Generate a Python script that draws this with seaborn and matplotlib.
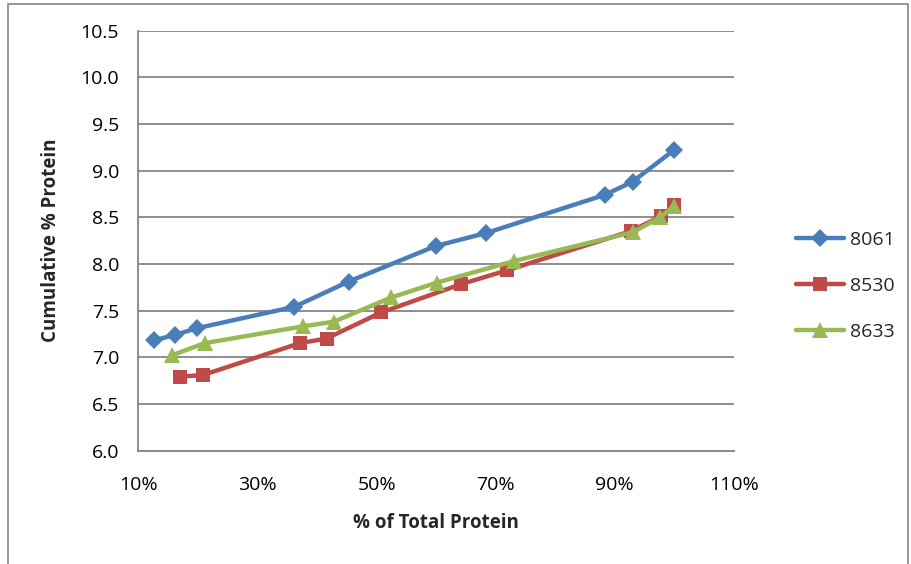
import matplotlib
matplotlib.use("Agg")
import matplotlib.pyplot as plt
import seaborn as sns
import pandas as pd
from matplotlib.patches import Rectangle
from matplotlib.ticker import FuncFormatter

# ---- data ----
series_names = ["8061", "8530", "8633"]
x_8061 = [12.6, 16.2, 19.8, 36.2, 45.3, 59.9, 68.4, 88.4, 93.0, 100.0]
y_8061 = [7.18, 7.24, 7.31, 7.54, 7.81, 8.19, 8.33, 8.74, 8.88, 9.22]
x_8530 = [16.9, 20.9, 37.1, 41.6, 50.8, 64.1, 71.9, 92.7, 97.8, 100.0]
y_8530 = [6.79, 6.81, 7.15, 7.20, 7.48, 7.78, 7.93, 8.35, 8.51, 8.63]
x_8633 = [15.6, 21.1, 37.6, 42.8, 52.5, 60.2, 73.1, 93.1, 97.7, 100.0]
y_8633 = [7.02, 7.15, 7.33, 7.38, 7.64, 7.80, 8.03, 8.34, 8.50, 8.62]
x_ticks = [10, 30, 50, 70, 90, 110]
y_ticks = [6.0, 6.5, 7.0, 7.5, 8.0, 8.5, 9.0, 9.5, 10.0, 10.5]
x_title = "% of Total Protein"
y_title = "Cumulative % Protein"

colors = {"8061": "#4A7EBB", "8530": "#BE4B48", "8633": "#98B954"}
markers = {"8061": "D", "8530": "s", "8633": "^"}

frames = []
for name, xs, ys in [("8061", x_8061, y_8061), ("8530", x_8530, y_8530), ("8633", x_8633, y_8633)]:
    frames.append(pd.DataFrame({"x": xs, "y": ys, "series": name}))
df = pd.concat(frames, ignore_index=True)

sns.set_theme(style="white")
plt.rcParams["font.family"] = ["Open Sans", "DejaVu Sans"]

fig = plt.figure(figsize=(9.12, 5.64), dpi=100)
ax = fig.add_axes([138.5 / 912, 1 - 450.5 / 564, (733.7 - 138.5) / 912, (450.5 - 30.5) / 564])

sns.lineplot(data=df, x="x", y="y", hue="series", style="series",
             hue_order=series_names, style_order=series_names,
             palette=colors, markers=markers, dashes=False, sort=False,
             linewidth=3.2, markersize=10, markeredgewidth=0,
             estimator=None, ax=ax, legend=True)

sizes = {"D": 9.0, "s": 10.5, "^": 12.0}
for line in ax.get_lines():
    m = line.get_marker()
    if m in sizes:
        line.set_markersize(sizes[m])
    line.set_solid_joinstyle("round")
    line.set_solid_capstyle("round")
    line.set_zorder(3)

ax.set_xlim(10, 110)
ax.set_ylim(6.0, 10.5)
ax.set_xticks(x_ticks)
ax.set_yticks(y_ticks)
ax.xaxis.set_major_formatter(FuncFormatter(lambda v, p: f"{v:.0f}%"))
ax.yaxis.set_major_formatter(FuncFormatter(lambda v, p: f"{v:.1f}"))
ax.tick_params(axis="both", length=0, labelsize=14, colors="black")
ax.tick_params(axis="y", pad=14)
ax.tick_params(axis="x", pad=18)

ax.grid(axis="y", color="#868686", linewidth=1.3)
ax.grid(axis="x", visible=False)
ax.set_axisbelow(True)
for s in ["top", "right"]:
    ax.spines[s].set_visible(False)
for s in ["left", "bottom"]:
    ax.spines[s].set_visible(True)
    ax.spines[s].set_color("#868686")
    ax.spines[s].set_linewidth(1.3)

ax.set_xlabel(x_title, fontsize=13.5, fontweight="bold", labelpad=14)
ax.set_ylabel(y_title, fontsize=13.5, fontweight="bold", labelpad=14)

leg = ax.legend(loc="center left", bbox_to_anchor=(1.075, 0.392), frameon=False,
                fontsize=14, handlelength=2.5, labelspacing=1.45, handletextpad=0.3)
for h in leg.legend_handles:
    h.set_linewidth(3.2)
    h.set_solid_capstyle("round")

# outer chart border
fig.patches.append(Rectangle((8 / 912, -0.02), (908 - 8) / 912, 1 - 4 / 564 + 0.02,
                             transform=fig.transFigure, fill=False,
                             edgecolor="#868686", linewidth=1.2))

fig.savefig("out.png", dpi=100)
